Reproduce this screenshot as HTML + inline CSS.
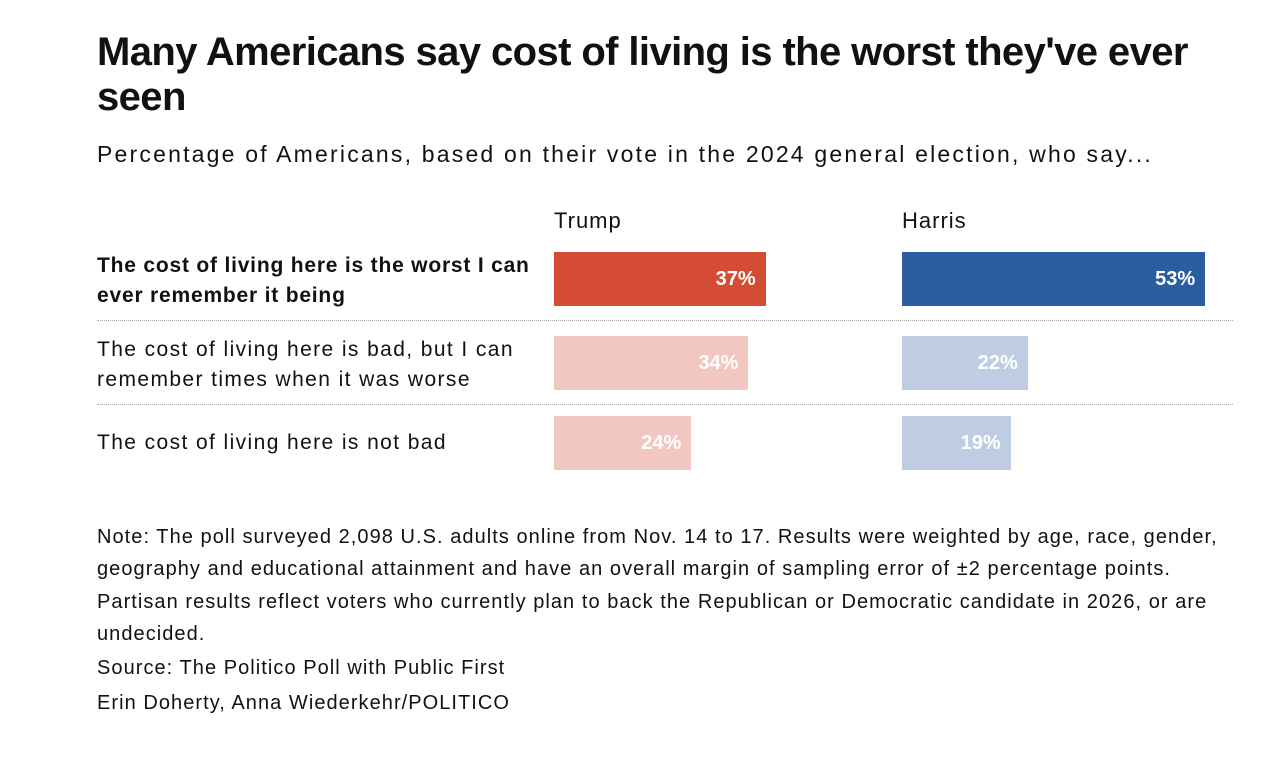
<!DOCTYPE html>
<html><head><meta charset="utf-8">
<style>
body{margin:0;width:1268px;height:758px;background:#fff;font-family:"Liberation Sans",sans-serif;color:#111;position:relative;overflow:hidden}
.t{position:absolute;left:97px;top:30px;width:1130px;font-size:40px;font-weight:bold;line-height:45px;letter-spacing:-0.6px}
.sub{position:absolute;left:97px;top:141px;font-size:23px;letter-spacing:2.2px;white-space:nowrap}
.hd{position:absolute;top:208px;font-size:22px;letter-spacing:1px}
.lab{position:absolute;left:97px;font-size:21px;line-height:30px;width:460px;white-space:nowrap;letter-spacing:1.4px}
.sep{position:absolute;left:97px;width:1136px;border-top:1px dotted #aaa}
.note{position:absolute;left:97px;top:521px;width:1160px;font-size:20px;line-height:32.3px;white-space:nowrap;letter-spacing:1.05px}
</style></head><body>
<div class="t">Many Americans say cost of living is the worst they've ever<br>seen</div>
<div class="sub">Percentage of Americans, based on their vote in the 2024 general election, who say...</div>
<div class="hd" style="left:554px">Trump</div>
<div class="hd" style="left:902px">Harris</div>
<div class="sep" style="top:320px"></div>
<div class="sep" style="top:404px"></div>
<div id="rows"></div>
<div class="note">Note: The poll surveyed 2,098 U.S. adults online from Nov. 14 to 17. Results were weighted by age, race, gender,<br>geography and educational attainment and have an overall margin of sampling error of ±2 percentage points.<br>Partisan results reflect voters who currently plan to back the Republican or Democratic candidate in 2026, or are<br>undecided.<br><span style="display:block;margin-top:2px">Source: The Politico Poll with Public First</span><span style="display:block;margin-top:3px">Erin Doherty, Anna Wiederkehr/POLITICO</span></div>
<script>
const categories=["The cost of living here is the worst I can|ever remember it being","The cost of living here is bad, but I can|remember times when it was worse","The cost of living here is not bad"];
const trumpValues=[37,34,24];
const harrisValues=[53,22,19];
const rowTops=[252,336,416];
const scale=v=>v*5.72;
const root=document.getElementById('rows');
categories.forEach((c,i)=>{
  const l=document.createElement('div');
  l.className='lab';
  
  
  l.style.top=(i==2?rowTops[i]+12:rowTops[i]-1)+'px';
  if(i==0){l.style.fontWeight='bold';l.style.letterSpacing='0.8px';}
  c.split('|').forEach((s,k)=>{if(k)l.appendChild(document.createElement('br'));l.appendChild(document.createTextNode(s));});
  root.appendChild(l);
  [[trumpValues,554,i==0?'#d44c33':'#f3c7c1'],[harrisValues,902,i==0?'#2b5ea1':'#bfcde2']].forEach(([arr,x,col],j)=>{
    const b=document.createElement('div');
    
    
    b.style.cssText=`position:absolute;left:${x}px;top:${rowTops[i]}px;height:54px;width:${scale(arr[i])}px;background:${col};color:#fff;font-weight:bold;font-size:20px;line-height:54px;text-align:right;box-sizing:border-box;padding-right:10px`;
    b.textContent=arr[i]+'%';root.appendChild(b);
  });
});
</script>
</body></html>
